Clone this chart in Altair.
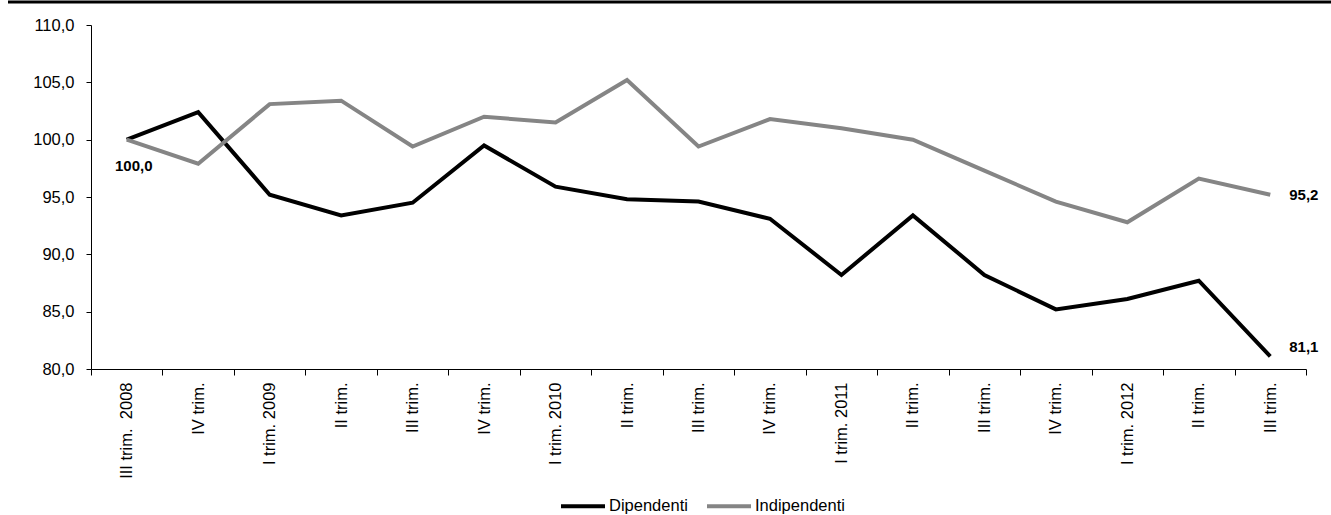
import altair as alt
import pandas as pd

# Quarterly index (III trim. 2008 = 100)
periods = [
    "III trim.\u00a0 2008", "IV trim.", "I trim. 2009", "II trim.", "III trim.",
    "IV trim. ", "I trim. 2010", "II trim. ", "III trim. ", "IV trim.  ",
    "I trim. 2011", "II trim.  ", "III trim.  ", "IV trim.   ", "I trim. 2012",
    "II trim.   ", "III trim.   ",
]
dipendenti = [100.0, 102.4, 95.2, 93.4, 94.5, 99.5, 95.9, 94.8, 94.6, 93.1,
              88.2, 93.4, 88.2, 85.2, 86.1, 87.7, 81.1]
indipendenti = [100.0, 97.9, 103.1, 103.4, 99.4, 102.0, 101.5, 105.2, 99.4, 101.8,
                101.0, 100.0, 97.3, 94.6, 92.8, 96.6, 95.2]
series = ["Dipendenti", "Indipendenti"]
colors = ["#000000", "#858585"]
y_ticks = [80, 85, 90, 95, 100, 105, 110]

# Repeated quarter names get trailing spaces so each stays a distinct category;
# the axis shows them trimmed.
rows = []
for name, vals in zip(series, [dipendenti, indipendenti]):
    for i, (p, v) in enumerate(zip(periods, vals)):
        rows.append({"periodo": p, "serie": name, "valore": v, "idx": i})
df = pd.DataFrame(rows)


def fmt(v):
    return f"{v:.1f}".replace(".", ",")


df["etichetta"] = df["valore"].map(fmt)

W, H = 1215, 344
FONT = "Liberation Sans"
FS = 16.5

x_enc = alt.X(
    "periodo:N",
    sort=periods,
    bandPosition=0.5,
    scale=alt.Scale(type="band", paddingInner=0, paddingOuter=0),
    axis=alt.Axis(
        title=None,
        labelAngle=270,
        tickBand="extent",
        tickSize=6,
        labelPadding=7,
        labelExpr="trim(datum.label)",
        labelFont=FONT,
        labelFontSize=FS,
        labelColor="#000000",
        domainColor="#000000",
        tickColor="#000000",
        grid=False,
    ),
)
y_enc = alt.Y(
    "valore:Q",
    scale=alt.Scale(domain=[80, 110], nice=False, zero=False),
    axis=alt.Axis(
        title=None,
        values=y_ticks,
        labelExpr="replace(format(datum.value, '.1f'), '.', ',')",
        tickSize=5,
        labelPadding=12,
        labelFont=FONT,
        labelFontSize=FS,
        labelColor="#000000",
        domainColor="#000000",
        tickColor="#000000",
        grid=False,
    ),
)

lines = alt.Chart(df).mark_line(strokeWidth=4, strokeJoin="miter").encode(
    x=x_enc,
    y=y_enc,
    color=alt.Color(
        "serie:N",
        scale=alt.Scale(domain=series, range=colors),
        legend=alt.Legend(
            title=None,
            orient="none",
            direction="horizontal",
            legendX=468,
            legendY=457,
            padding=0,
            symbolType="stroke",
            symbolSize=1936,
            symbolStrokeWidth=4,
            labelOffset=2,
            columnPadding=11,
            labelFont=FONT,
            labelFontSize=FS,
            labelColor="#000000",
        ),
    ),
)

first_lbl = alt.Chart(df[(df.serie == "Dipendenti") & (df.idx == 0)]).mark_text(
    align="center", baseline="middle", dx=7, dy=26,
    font=FONT, fontSize=15, fontWeight="bold", color="#000000",
).encode(x=x_enc, y=y_enc, text="etichetta:N")

last_ind = alt.Chart(df[(df.serie == "Indipendenti") & (df.idx == 16)]).mark_text(
    align="left", baseline="middle", dx=19, dy=0,
    font=FONT, fontSize=15, fontWeight="bold", color="#000000",
).encode(x=x_enc, y=y_enc, text="etichetta:N")

last_dip = alt.Chart(df[(df.serie == "Dipendenti") & (df.idx == 16)]).mark_text(
    align="left", baseline="middle", dx=19, dy=-9,
    font=FONT, fontSize=15, fontWeight="bold", color="#000000",
).encode(x=x_enc, y=y_enc, text="etichetta:N")

# Heavy rule across the top of the figure
top_rule = alt.Chart(pd.DataFrame({"k": [0]})).mark_rule(
    color="#000000", strokeWidth=3
).encode(x=alt.value(-83), x2=alt.value(1240), y=alt.value(-23))

chart = (
    alt.layer(lines, first_lbl, last_ind, last_dip, top_rule)
    .properties(
        width=W,
        height=H,
        padding={"left": 91, "top": 25, "right": 25, "bottom": 146},
        autosize="none",
    )
    .configure(background="#ffffff")
    .configure_view(stroke=None)
)

chart.save("out.html", embed_options={"renderer": "svg", "actions": False})
